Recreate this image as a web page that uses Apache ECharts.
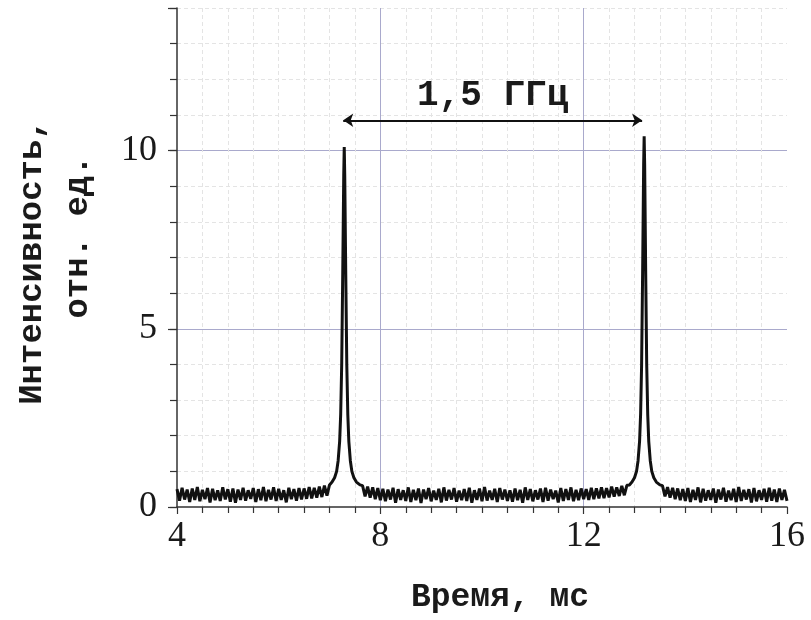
<!DOCTYPE html>
<html>
<head>
<meta charset="utf-8">
<script src="https://cdn.jsdelivr.net/npm/echarts@6/dist/echarts.min.js"></script>
<style>html,body{margin:0;padding:0;background:#fff;}#chart{width:811px;height:620px;}</style>
</head>
<body>
<div id="chart"></div>
<script>
// ---- data ----
const xTicks = [4, 8, 12, 16];
const yTicks = [0, 5, 10];
// baseline noise segments: start time (ms), sampling step (ms), intensity values
const noiseStep = 0.05;
const noiseAStart = 4.00;
const noiseA = [
0.50,0.18,0.54,0.21,0.49,0.14,0.52,0.20,0.56,0.16,
0.48,0.22,0.53,0.13,0.51,0.19,0.47,0.17,0.55,0.21,
0.50,0.15,0.52,0.12,0.49,0.20,0.54,0.18,0.47,0.23,
0.53,0.14,0.50,0.19,0.56,0.16,0.48,0.21,0.55,0.17,
0.51,0.20,0.47,0.13,0.54,0.22,0.50,0.18,0.53,0.21,
0.52,0.23,0.56,0.24,0.54,0.26,0.57,0.28,0.60,0.32];
const noiseBStart = 7.65;
const noiseB = [
0.60,0.30,0.57,0.26,0.55,0.22,0.53,0.19,0.51,0.16,
0.49,0.21,0.54,0.12,0.50,0.20,0.47,0.17,0.55,0.14,
0.48,0.19,0.52,0.11,0.49,0.22,0.53,0.16,0.46,0.20,
0.51,0.13,0.55,0.18,0.48,0.21,0.53,0.15,0.46,0.19,
0.50,0.17,0.54,0.12,0.47,0.20,0.52,0.16,0.56,0.18,
0.46,0.20,0.51,0.14,0.53,0.21,0.49,0.17,0.47,0.15,
0.52,0.19,0.48,0.12,0.55,0.20,0.50,0.16,0.47,0.21,
0.52,0.14,0.54,0.18,0.49,0.22,0.46,0.13,0.53,0.17,
0.50,0.20,0.55,0.16,0.48,0.19,0.52,0.22,0.50,0.20,
0.54,0.22,0.52,0.24,0.55,0.25,0.53,0.27,0.57,0.29,
0.55,0.31,0.59,0.33,0.61];
const noiseCStart = 13.55;
const noiseC = [
0.60,0.30,0.56,0.26,0.54,0.22,0.52,0.19,0.50,0.17,
0.53,0.14,0.48,0.20,0.55,0.13,0.51,0.18,0.47,0.20,
0.52,0.12,0.49,0.21,0.54,0.15,0.46,0.19,0.51,0.14,
0.56,0.17,0.48,0.21,0.50,0.13,0.53,0.16,0.47,0.20,
0.51,0.15,0.54,0.18,0.49,0.14,0.52,0.20,0.48,0.17];
// peaks: [time ms, intensity]
const peak1 = [[7.00,0.62],[7.05,0.70],[7.10,0.82],[7.14,1.00],[7.17,1.30],[7.20,1.85],[7.22,2.6],[7.24,4.0],[7.26,6.5],[7.28,9.3],[7.29,10.1],[7.30,9.3],[7.32,6.5],[7.34,4.0],[7.36,2.6],[7.38,1.85],[7.41,1.30],[7.44,1.00],[7.48,0.82],[7.53,0.70],[7.60,0.62]];
const peak2 = [[12.90,0.62],[12.95,0.70],[13.00,0.82],[13.04,1.00],[13.07,1.30],[13.10,1.85],[13.12,2.6],[13.14,4.0],[13.16,6.6],[13.18,9.6],[13.19,10.4],[13.20,9.6],[13.22,6.6],[13.24,4.0],[13.26,2.6],[13.28,1.85],[13.31,1.30],[13.34,1.00],[13.38,0.82],[13.43,0.70],[13.50,0.62]];
// annotation arrow between peaks
const arrowY = 10.85;
const arrowFrom = 7.27;
const arrowTo = 13.15;
const arrowLabel = '1,5 ГГц';
const xTitle = 'Время, мс';
const yTitle1 = 'Интенсивность,';
const yTitle2 = 'отн. ед.';

function seg(start, vals) { return vals.map((v, i) => [+(start + i * noiseStep).toFixed(3), v]); }
const data = [].concat(seg(noiseAStart, noiseA), peak1, seg(noiseBStart, noiseB), peak2, seg(noiseCStart, noiseC))
  .sort((a, b) => a[0] - b[0]);

const serif = '"Liberation Serif", "Times New Roman", serif';
const mono = '"Liberation Mono", "Courier New", monospace';
const majorGrid = '#a9a9cc';
const minorGrid = '#e4e4e4';

const chart = echarts.init(document.getElementById('chart'), null, {renderer: 'canvas'});
chart.setOption({
  animation: false,
  backgroundColor: '#fff',
  grid: {left: 177, right: 24, top: 8, bottom: 113, containLabel: false},
  xAxis: {
    type: 'value', min: 4, max: 16, interval: 4,
    axisLine: {show: true, onZero: false, lineStyle: {color: '#333', width: 1.5}},
    axisTick: {show: true, length: 7, lineStyle: {color: '#333', width: 1.2}},
    minorTick: {show: true, splitNumber: 8, length: 6, lineStyle: {color: '#333', width: 1.2}},
    splitLine: {show: true, showMinLine: false, showMaxLine: false, lineStyle: {color: majorGrid, width: 1}},
    minorSplitLine: {show: true, lineStyle: {color: minorGrid, width: 1, type: [4, 3]}},
    axisLabel: {margin: 12, fontFamily: serif, fontSize: 36, color: '#1a1a1a',
      formatter: v => xTicks.indexOf(v) >= 0 ? String(v) : ''}
  },
  yAxis: [{
    type: 'value', min: 0, max: 14, interval: 1, position: 'left',
    axisLine: {show: true, onZero: false, lineStyle: {color: '#333', width: 1.5}},
    axisTick: {show: true, length: 7, lineStyle: {color: '#333', width: 1.2}},
    axisLabel: {show: false},
    splitLine: {show: true, showMinLine: false, lineStyle: {color: minorGrid, width: 1, type: [4, 3]}}
  }, {
    type: 'value', min: 0, max: 14, interval: 5, position: 'left', offset: 0,
    axisLine: {show: false},
    axisTick: {show: true, length: 9, lineStyle: {color: '#333', width: 1.2}},
    splitLine: {show: true, showMinLine: false, showMaxLine: false, lineStyle: {color: majorGrid, width: 1}},
    axisLabel: {margin: 20, fontFamily: serif, fontSize: 36, color: '#1a1a1a',
      formatter: v => yTicks.indexOf(v) >= 0 ? String(v) : ''}
  }],
  series: [{
    type: 'line', yAxisIndex: 0, data: data, showSymbol: false, symbol: 'none',
    lineStyle: {color: '#111', width: 3}, z: 5,
    markLine: {
      silent: true, symbol: ['arrow', 'arrow'], symbolSize: 10, precision: 2,
      lineStyle: {color: '#111', width: 1.8, type: 'solid'},
      label: {show: true, position: 'insideMiddleTop', distance: 6, formatter: arrowLabel,
        fontFamily: mono, fontWeight: 'bold', fontSize: 36, color: '#1a1a1a'},
      data: [[{coord: [arrowFrom, arrowY]}, {coord: [arrowTo, arrowY]}]]
    }
  }],
  graphic: [
    {type: 'text', x: 500, y: 598, style: {text: xTitle, fontFamily: mono, fontWeight: 'bold', fontSize: 33, fill: '#1a1a1a', align: 'center', verticalAlign: 'middle'}},
    {type: 'text', x: 32, y: 262, rotation: Math.PI / 2, style: {text: yTitle1, fontFamily: mono, fontWeight: 'bold', fontSize: 34, fill: '#1a1a1a', align: 'center', verticalAlign: 'middle'}},
    {type: 'text', x: 78, y: 237, rotation: Math.PI / 2, style: {text: yTitle2, fontFamily: mono, fontWeight: 'bold', fontSize: 34, fill: '#1a1a1a', align: 'center', verticalAlign: 'middle'}}
  ]
});
</script>
</body>
</html>
